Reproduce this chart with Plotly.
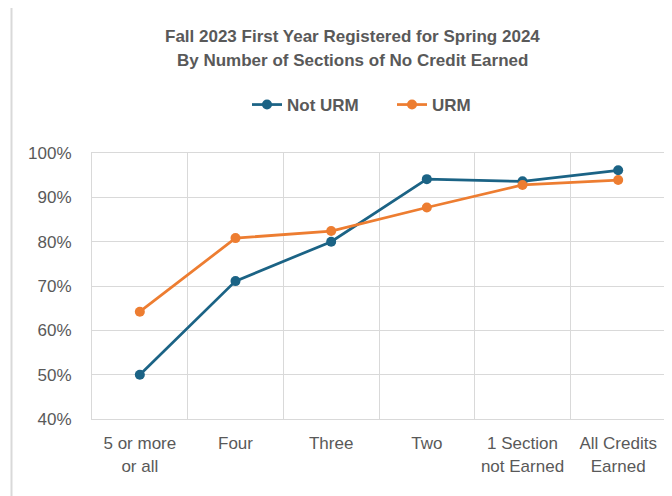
import plotly.graph_objects as go

categories = ["5 or more<br>or all", "Four", "Three", "Two", "1 Section<br>not Earned", "All Credits<br>Earned"]
not_urm = [0.50, 0.711, 0.80, 0.941, 0.936, 0.961]
urm = [0.642, 0.808, 0.824, 0.877, 0.928, 0.939]
y_ticks = [0.4, 0.5, 0.6, 0.7, 0.8, 0.9, 1.0]
y_labels = ["40%", "50%", "60%", "70%", "80%", "90%", "100%"]
title_lines = ["Fall 2023 First Year Registered for Spring 2024",
               "By Number of Sections of No Credit Earned"]

c_not = "#1B6385"
c_urm = "#ED7D31"
gray = "#595959"
sans = "Liberation Sans, Arial, sans-serif"

# the page body adds an 8px offset; figure is sized so it fits the window
W, H = 664, 488
L, R, T, B = 84, 6, 145, 77
pw, ph = W - L - R, H - T - B

def px_x(x):
    return (x - L) / pw

def px_y(y):
    return (H - B - y) / ph

fig = go.Figure()
fig.add_trace(go.Scatter(x=categories, y=not_urm, name="Not URM", mode="lines+markers",
                         line=dict(color=c_not, width=2.75), marker=dict(size=10, color=c_not)))
fig.add_trace(go.Scatter(x=categories, y=urm, name="URM", mode="lines+markers",
                         line=dict(color=c_urm, width=2.75), marker=dict(size=10, color=c_urm)))

fig.update_layout(
    width=W, height=H,
    margin=dict(l=L, r=R, t=T, b=B),
    paper_bgcolor="white", plot_bgcolor="white",
    legend=dict(orientation="h", x=px_x(239), xanchor="left", y=px_y(97), yanchor="middle",
                font=dict(family=sans, size=17, color=gray, weight="bold"),
                entrywidth=100, traceorder="normal"),
    showlegend=True,
)
for i, line in enumerate(title_lines):
    fig.add_annotation(text="<b>" + line + "</b>", xref="paper", yref="paper",
                       x=px_x(344), y=px_y(28 + 24 * i), xanchor="center", yanchor="middle",
                       showarrow=False, font=dict(family=sans, size=17, color=gray))

fig.update_xaxes(type="category", range=[-0.5, 5.5], tickson="boundaries", ticks="",
                 showgrid=True, gridcolor="#D9D9D9", gridwidth=1,
                 showline=True, linecolor="#D9D9D9", linewidth=1, mirror=True,
                 automargin=False, tickangle=0,
                 tickfont=dict(family=sans, size=17, color=gray), ticklabelstandoff=9)
fig.update_yaxes(range=[0.4, 1.0], tickvals=y_ticks, ticktext=y_labels, ticks="",
                 showgrid=True, gridcolor="#D9D9D9", gridwidth=1,
                 showline=True, linecolor="#D9D9D9", linewidth=1, mirror=True,
                 zeroline=False, automargin=False,
                 tickfont=dict(family=sans, size=17, color=gray),
                 ticklabelstandoff=16)

# outer chart border (left edge visible in the reference)
fig.add_shape(type="line", xref="paper", yref="paper",
              x0=px_x(3.5), x1=px_x(3.5), y0=px_y(H + 5), y1=px_y(-5),
              line=dict(color="#D9D9D9", width=2), layer="below")

fig.write_html("out.html")
